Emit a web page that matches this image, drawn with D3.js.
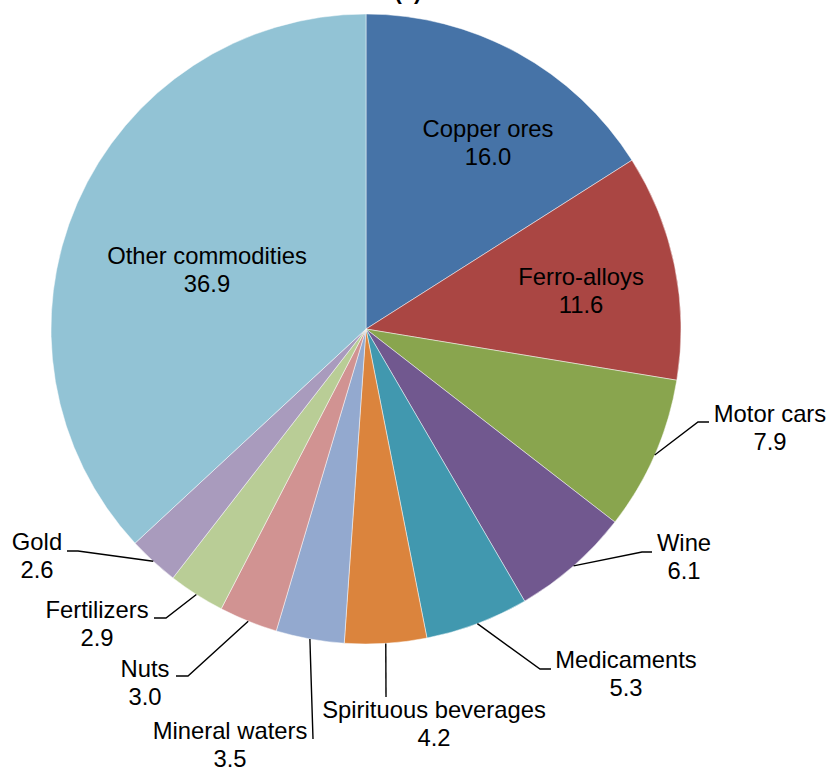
<!DOCTYPE html>
<html>
<head>
<meta charset="utf-8">
<script src="https://cdn.jsdelivr.net/npm/d3@7"></script>
<style>
  html, body { margin: 0; padding: 0; background: #fff; }
  svg { display: block; }
  text { font-family: "Liberation Sans", Arial, sans-serif; fill: #000; }
</style>
</head>
<body>
<svg id="chart" width="826" height="768"></svg>
<script>
// ---- data ----
const categories = ["Copper ores", "Ferro-alloys", "Motor cars", "Wine", "Medicaments",
  "Spirituous beverages", "Mineral waters", "Nuts", "Fertilizers", "Gold", "Other commodities"];
const shares = [16.0, 11.6, 7.9, 6.1, 5.3, 4.2, 3.5, 3.0, 2.9, 2.6, 36.9];
const valueLabels = ["16.0", "11.6", "7.9", "6.1", "5.3", "4.2", "3.5", "3.0", "2.9", "2.6", "36.9"];
const titleText = "(a)";

// ---- styles / layout ----
const colors = ["#4673A7", "#AA4643", "#89A54E", "#71588F", "#4198AF", "#DB843D",
  "#93A9CF", "#D19392", "#B9CD96", "#A99BBD", "#92C3D5"];
const cx = 366, cy = 329, R = 315;
const fontSize = 23.8, lineGap = 27.5;
// label layout: label center x, first baseline y, optional leader elbow and end
const labelLayout = {
  "Copper ores":          {x: 488, y: 137},
  "Ferro-alloys":         {x: 581, y: 285},
  "Other commodities":    {x: 207, y: 264},
  "Motor cars":           {x: 770, y: 422, elbow: [698, 422], end: [709, 422]},
  "Wine":                 {x: 684, y: 551, elbow: [642, 552], end: [652, 552]},
  "Medicaments":          {x: 626, y: 668, elbow: [540, 669], end: [551, 669]},
  "Spirituous beverages": {x: 434, y: 718, elbow: [386, 697], end: [386, 697]},
  "Mineral waters":       {x: 230, y: 739, elbow: [313, 739], end: [313, 739]},
  "Nuts":                 {x: 145, y: 677, elbow: [188, 676], end: [176, 676]},
  "Fertilizers":          {x: 97,  y: 618, elbow: [166, 618], end: [154, 618]},
  "Gold":                 {x: 37,  y: 550, elbow: [78, 551],  end: [67, 551]}
};

const data = categories.map((c, i) => ({name: c, value: shares[i], label: valueLabels[i], color: colors[i]}));

const svg = d3.select("#chart");
const g = svg.append("g").attr("transform", `translate(${cx},${cy})`);

const pie = d3.pie().value(d => d.value).sort(null);
const arcs = pie(data);
const arc = d3.arc().innerRadius(0).outerRadius(R);
const edgeArc = d3.arc().innerRadius(R).outerRadius(R);

g.selectAll("path.slice")
  .data(arcs)
  .join("path")
  .attr("class", "slice")
  .attr("d", arc)
  .attr("fill", d => d.data.color)
  .attr("stroke", "#ffffff")
  .attr("stroke-opacity", 0.6)
  .attr("stroke-width", 0.8);

// leader lines
const line = d3.line();
arcs.forEach(a => {
  const L = labelLayout[a.data.name];
  if (!L.elbow) return;
  const c = edgeArc.centroid(a);
  const p0 = [c[0] + cx, c[1] + cy];
  svg.append("path")
    .attr("d", line([p0, L.elbow, L.end]))
    .attr("fill", "none")
    .attr("stroke", "#000")
    .attr("stroke-width", 1.4);
});

// labels
arcs.forEach(a => {
  const L = labelLayout[a.data.name];
  const t = svg.append("text")
    .attr("text-anchor", "middle")
    .attr("font-size", fontSize);
  t.append("tspan").attr("x", L.x).attr("y", L.y).text(a.data.name);
  t.append("tspan").attr("x", L.x).attr("y", L.y + lineGap).text(a.data.label);
});

// title (cut off at top, as in the reference)
svg.append("text")
  .attr("x", 408).attr("y", -1)
  .attr("text-anchor", "middle")
  .attr("font-size", 22)
  .attr("font-weight", "bold")
  .text(titleText);
</script>
</body>
</html>
